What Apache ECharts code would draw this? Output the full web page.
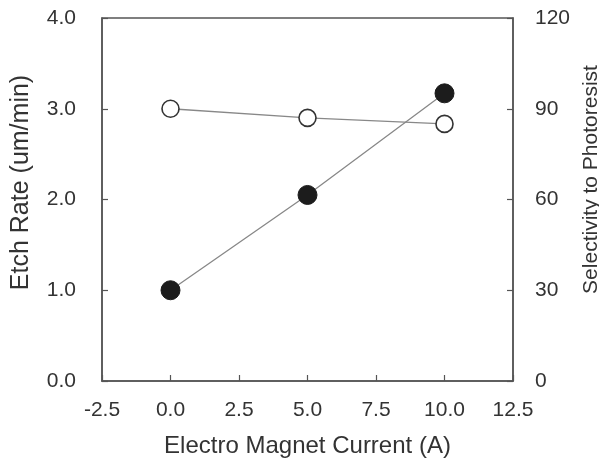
<!DOCTYPE html>
<html>
<head>
<meta charset="utf-8">
<script src="https://cdn.jsdelivr.net/npm/echarts@6/dist/echarts.min.js"></script>
<style>
  html, body { margin: 0; padding: 0; background: #fff; }
  #chart { width: 599px; height: 460px; }
</style>
</head>
<body>
<div id="chart"></div>
<script>
// Electro magnet current (A)
const current = [0, 5, 10];
// Etch rate (um/min), left axis, filled markers
const etchRate = [1.0, 2.05, 3.17];
// Selectivity to photoresist, right axis, open markers
const selectivity = [90, 87, 85];

const axisColor = '#555';
const textColor = '#333';
const fontFamily = 'Liberation Sans, Arial, sans-serif';

const chart = echarts.init(document.getElementById('chart'));
chart.setOption({
  animation: false,
  backgroundColor: '#fff',
  grid: {
    left: 102, right: 86, top: 18, bottom: 79,
    outerBoundsMode: 'none',
    containLabel: false,
    show: true, borderColor: axisColor, borderWidth: 1.5
  },
  xAxis: {
    type: 'value', min: -2.5, max: 12.5, interval: 2.5,
    name: 'Electro Magnet Current (A)',
    nameLocation: 'middle', nameGap: 53,
    nameTextStyle: { fontSize: 24, color: textColor, fontFamily },
    axisLine: { show: true, onZero: false, lineStyle: { color: axisColor, width: 1.5 } },
    axisTick: { show: true, inside: true, length: 6, lineStyle: { color: axisColor, width: 1.2 } },
    axisLabel: { fontSize: 21, color: textColor, fontFamily, margin: 19,
      formatter: v => v.toFixed(1) },
    splitLine: { show: false }
  },
  yAxis: [
    {
      type: 'value', min: 0, max: 4, interval: 1, position: 'left',
      name: 'Etch Rate (um/min)',
      nameLocation: 'middle', nameGap: 68, nameRotate: 90,
      // extra left padding lifts the title a little above the plot's centre
      nameTextStyle: { fontSize: 25, color: textColor, fontFamily, padding: [0, 0, 0, 34] },
      axisLine: { show: true, onZero: false, lineStyle: { color: axisColor, width: 1.5 } },
      axisTick: { show: true, inside: true, length: 6, lineStyle: { color: axisColor, width: 1.2 } },
      axisLabel: { fontSize: 21, color: textColor, fontFamily, margin: 26,
        formatter: v => v.toFixed(1) },
      splitLine: { show: false }
    },
    {
      type: 'value', min: 0, max: 120, interval: 30, position: 'right',
      name: 'Selectivity to Photoresist',
      nameLocation: 'middle', nameGap: 60, nameRotate: 90,
      nameTextStyle: { fontSize: 21, color: textColor, fontFamily, padding: [0, 0, 0, 40] },
      axisLine: { show: true, onZero: false, lineStyle: { color: axisColor, width: 1.5 } },
      axisTick: { show: true, inside: true, length: 6, lineStyle: { color: axisColor, width: 1.2 } },
      axisLabel: { fontSize: 21, color: textColor, fontFamily, margin: 22 },
      splitLine: { show: false }
    }
  ],
  series: [
    {
      name: 'Etch Rate',
      type: 'line', yAxisIndex: 0,
      data: current.map((x, i) => [x, etchRate[i]]),
      symbol: 'circle', symbolSize: 19,
      lineStyle: { color: '#888', width: 1.3 },
      itemStyle: { color: '#1c1c1c', borderColor: '#1c1c1c', borderWidth: 1 },
      z: 2
    },
    {
      name: 'Selectivity',
      type: 'line', yAxisIndex: 1,
      data: current.map((x, i) => [x, selectivity[i]]),
      symbol: 'circle', symbolSize: 17,
      lineStyle: { color: '#888', width: 1.3 },
      itemStyle: { color: '#fff', borderColor: '#333', borderWidth: 1.6 },
      z: 3
    }
  ]
});
</script>
</body>
</html>
